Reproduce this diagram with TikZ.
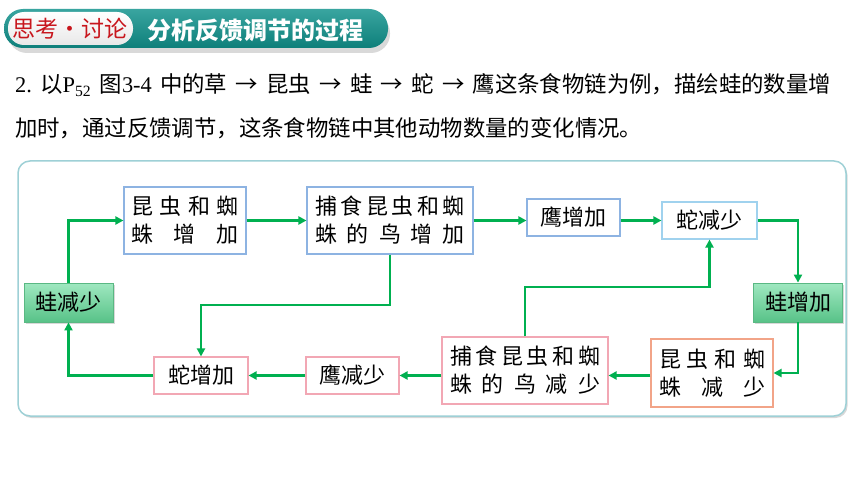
\documentclass[tikz,border=0pt]{standalone}
\usepackage{fontspec}
\setmainfont{Noto Sans CJK SC}
\newfontfamily\lser{Liberation Serif}
\usetikzlibrary{arrows.meta,shadows,calc}
\definecolor{teal1}{HTML}{16958F}
\definecolor{teal2}{HTML}{0E7F7A}
\definecolor{hred}{HTML}{C8161D}
\definecolor{arrgreen}{HTML}{00B050}
\definecolor{blueb}{HTML}{8DB3E2}
\definecolor{lblueb}{HTML}{A0D2EE}
\definecolor{pinkb}{HTML}{F2A7B4}
\definecolor{orangeb}{HTML}{F2A488}
\definecolor{froglight}{HTML}{9FE8C0}
\definecolor{frogdark}{HTML}{58C288}
\definecolor{frogedge}{HTML}{5AB883}
\definecolor{outerb}{HTML}{9ED0D6}
\begin{document}
\begin{tikzpicture}[x=1pt,y=-1pt,
  arr/.style={draw=arrgreen, line width=2.2pt, -{Triangle[length=8pt,width=8pt]}},
  box/.style={draw=#1, line width=1.1pt, fill=white, inner sep=0pt, font=\fontsize{22}{28}\selectfont, align=center},
  frog/.style={draw=frogedge, line width=0.8pt, top color=froglight, bottom color=frogdark, inner sep=0pt,
    font=\fontsize{22}{28}\selectfont, minimum width=89pt, minimum height=39pt,
    drop shadow={opacity=0.3,shadow xshift=1.5pt,shadow yshift=-1.5pt}},
  txt/.style={inner sep=0pt, anchor=west, font=\fontsize{22.4}{26}\selectfont}
]
\useasboundingbox (0,0) rectangle (860,484);
\fill[white] (0,0) rectangle (860,484);

% header banner
\fill[black, opacity=0.15] (8,14) [rounded corners=19pt] rectangle (390,53);
\shade[top color=teal1!85!white, bottom color=teal2, rounded corners=19pt] (4,9) rectangle (388,48);
\shade[top color=white, bottom color=gray!18, rounded corners=16pt] (8,12) rectangle (133,45);
\node[inner sep=0pt, text=hred, font=\fontsize{23}{26}\selectfont] (htag) at (70,28.5) {思考•讨论};
\node[inner sep=0pt, text=white, font=\fontsize{24}{26}\selectfont\bfseries] (htitle) at (255,30) {分析反馈调节的过程};

% question text
\node[txt] (q1) at (15,85) {\makebox[816pt][l]{{\lser 2.}\hfill 以{\lser P\textsubscript{52}}\hfill 图{\lser 3-4}\hfill 中的草\hfill →\hfill 昆虫\hfill →\hfill 蛙\hfill →\hfill 蛇\hfill →\hfill 鹰这条食物链为例，描绘蛙的数量增}};
\node[txt] (q2) at (15,128) {加时，通过反馈调节，这条食物链中其他动物数量的变化情况。};

% outer frame
\draw[draw=outerb, line width=1.5pt, fill=white, rounded corners=12pt,
  drop shadow={opacity=0.3,shadow xshift=1.5pt,shadow yshift=-2pt}] (18,161) rectangle (846,416);

% boxes
\node[box=blueb, minimum width=122pt, minimum height=67pt] (ins1) at (185,220.5)
  {\makebox[108pt]{昆\hfill 虫\hfill 和\hfill 蜘}\\ \makebox[108pt]{蛛\hfill 增\hfill 加}};
\node[box=blueb, minimum width=166pt, minimum height=67pt] (bird1) at (390,220.5)
  {\makebox[150pt]{捕\hfill 食\hfill 昆\hfill 虫\hfill 和\hfill 蜘}\\ \makebox[150pt]{蛛\hfill 的\hfill 鸟\hfill 增\hfill 加}};
\node[box=blueb, minimum width=93pt, minimum height=37pt] (eagle1) at (573.5,217.5) {鹰增加};
\node[box=lblueb, minimum width=95pt, minimum height=37pt] (snake1) at (709.5,220.5) {蛇减少};
\node[frog] (frogU) at (798,302.5) {蛙增加};
\node[box=orangeb, minimum width=122pt, minimum height=68pt] (ins2) at (712,373)
  {\makebox[106pt]{昆\hfill 虫\hfill 和\hfill 蜘}\\ \makebox[106pt]{蛛\hfill 减\hfill 少}};
\node[box=pinkb, minimum width=166pt, minimum height=67pt] (bird2) at (525,370.5)
  {\makebox[150pt]{捕\hfill 食\hfill 昆\hfill 虫\hfill 和\hfill 蜘}\\ \makebox[150pt]{蛛\hfill 的\hfill 鸟\hfill 减\hfill 少}};
\node[box=pinkb, minimum width=93pt, minimum height=37pt] (eagle2) at (352.5,375.5) {鹰减少};
\node[box=pinkb, minimum width=94pt, minimum height=37pt] (snake2) at (201,375.5) {蛇增加};
\node[frog] (frogD) at (68.5,302.5) {蛙减少};

% helper coordinates
\coordinate (k1) at (0,287);
\coordinate (k2) at (0,305);

% connectors
\draw[arr] (frogD.north) |- (ins1.west);
\draw[arr] (ins1.east) -- (bird1.west);
\draw[arr] (bird1.east) -- (bird1.east -| eagle1.west);
\draw[arr] (eagle1.east |- snake1.west) -- (snake1.west);
\draw[arr] (snake1.east) -| (frogU.north);
\draw[arr] (frogU.south) |- (ins2.east);
\draw[arr] (ins2.west |- eagle2.east) -- (bird2.east |- eagle2.east);
\draw[arr] (bird2.west |- eagle2.east) -- (eagle2.east);
\draw[arr] (eagle2.west) -- (snake2.east);
\draw[arr] (snake2.west) -| (frogD.south);
\draw[arr] (bird2.north) -- (bird2.north |- k1) -| (snake1.south);
\draw[arr] (bird1.south) -- (bird1.south |- k2) -| (snake2.north);
\end{tikzpicture}
\end{document}
